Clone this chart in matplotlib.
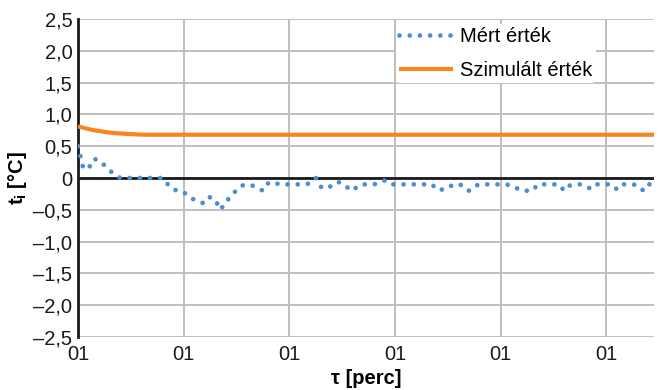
import matplotlib
matplotlib.use('Agg')
import matplotlib.pyplot as plt
from matplotlib.ticker import FixedLocator

plt.rcParams['font.family'] = ['Liberation Sans', 'DejaVu Sans']
plt.rcParams['mathtext.fontset'] = 'custom'
plt.rcParams['mathtext.rm'] = 'Liberation Sans'
plt.rcParams['mathtext.bf'] = 'Liberation Sans:bold'
plt.rcParams['mathtext.it'] = 'Liberation Sans:italic'

# measured values, one per minute
mert = [0.50, 0.15, 0.15, 0.30, 0.28, 0.20, 0.12, 0.05, 0.00, 0.00,
        0.00, 0.00, 0.00, 0.00, 0.00, 0.00, 0.00, -0.10, -0.18, -0.20,
        -0.22, -0.30, -0.34, -0.38, -0.40, -0.30, -0.35, -0.50, -0.36, -0.30,
        -0.18, -0.12, -0.10, -0.12, -0.16, -0.20, -0.08, -0.06, -0.10, -0.10,
        -0.10, -0.10, -0.10, -0.10, -0.08, 0.00, -0.14, -0.17, -0.12, -0.06,
        -0.08, -0.15, -0.20, -0.12, -0.10, -0.10, -0.10, -0.08, -0.04, -0.10,
        -0.10, -0.10, -0.10, -0.10, -0.10, -0.10, -0.10, -0.10, -0.19, -0.18,
        -0.16, -0.10, -0.10, -0.12, -0.20, -0.13, -0.10, -0.10, -0.10, -0.10,
        -0.10, -0.10, -0.12, -0.16, -0.20, -0.20, -0.20, -0.10, -0.10, -0.10,
        -0.10, -0.10, -0.20, -0.12, -0.10, -0.10, -0.12, -0.17, -0.10, -0.10,
        -0.10, -0.10, -0.18, -0.10, -0.10, -0.10, -0.12, -0.20, -0.10, -0.10]

szimulalt = [0.81, 0.79, 0.77, 0.75, 0.74, 0.725, 0.715, 0.705, 0.70, 0.695,
             0.69, 0.685, 0.683, 0.68, 0.68, 0.68, 0.68, 0.68, 0.68, 0.68,
             0.68, 0.68, 0.68, 0.68, 0.68, 0.68, 0.68, 0.68, 0.68, 0.68,
             0.68, 0.68, 0.68, 0.68, 0.68, 0.68, 0.68, 0.68, 0.68, 0.68,
             0.68, 0.68, 0.68, 0.68, 0.68, 0.68, 0.68, 0.68, 0.68, 0.68,
             0.68, 0.68, 0.68, 0.68, 0.68, 0.68, 0.68, 0.68, 0.68, 0.68,
             0.68, 0.68, 0.68, 0.68, 0.68, 0.68, 0.68, 0.68, 0.68, 0.68,
             0.68, 0.68, 0.68, 0.68, 0.68, 0.68, 0.68, 0.68, 0.68, 0.68,
             0.68, 0.68, 0.68, 0.68, 0.68, 0.68, 0.68, 0.68, 0.68, 0.68,
             0.68, 0.68, 0.68, 0.68, 0.68, 0.68, 0.68, 0.68, 0.68, 0.68,
             0.68, 0.68, 0.68, 0.68, 0.68, 0.68, 0.68, 0.68, 0.68, 0.68]

perc = list(range(len(mert)))
x_ticks = [0, 20, 40, 60, 80, 100]
x_labels = ['01', '01', '01', '01', '01', '01']
y_ticks = [2.5, 2.0, 1.5, 1.0, 0.5, 0, -0.5, -1.0, -1.5, -2.0, -2.5]
y_labels = ['2,5', '2,0', '1,5', '1,0', '0,5', '0',
            '–0,5', '–1,0', '–1,5', '–2,0', '–2,5']

fs = 14.5
fig = plt.figure(figsize=(6.62, 3.9), dpi=100)
ax = fig.add_axes([78/662, 1-337/390, (654-78)/662, (337-19)/390])

grid_c = '#bfbfbf'
ax.set_xlim(0, perc[-1])
ax.set_ylim(-2.5, 2.5)
ax.xaxis.set_major_locator(FixedLocator(x_ticks))
ax.yaxis.set_major_locator(FixedLocator(y_ticks))
ax.set_xticklabels(x_labels)
ax.set_yticklabels(y_labels)
ax.grid(True, color=grid_c, lw=1.4, zorder=0)
ax.set_axisbelow(True)
for s in ['top', 'right', 'bottom']:
    ax.spines[s].set_visible(False)
ax.spines['left'].set_linewidth(2.0)
ax.spines['left'].set_color('#1a1a1a')
ax.axhline(0, color='#1a1a1a', lw=2.0, zorder=1)
ax.tick_params(axis='both', length=0, labelsize=fs, colors='#1a1a1a')
ax.tick_params(axis='x', pad=6)
ax.tick_params(axis='y', pad=4)

ax.plot(perc, mert, color='#4a8fd4', lw=3.4, ls=(0, (0.01, 2.15)),
        dash_capstyle='round', label='Mért érték', zorder=3)
ax.plot(perc, szimulalt, color='#f7861f', lw=3.0, label='Szimulált érték',
        solid_capstyle='butt', zorder=3)

ax.set_xlabel('τ [perc]', fontsize=fs, fontweight='bold', labelpad=3)
ax.set_ylabel(r'$\mathbf{t_i}$ [°C]', fontsize=fs, fontweight='bold', labelpad=3)

leg = fig.legend(loc='upper left', bbox_to_anchor=(396/662, 1-24/390),
                 frameon=True, fontsize=fs, handlelength=2.7,
                 handletextpad=0.35, labelspacing=0.75, borderpad=0.15,
                 borderaxespad=0)
leg.get_frame().set_facecolor('white')
leg.get_frame().set_edgecolor('none')
leg.get_frame().set_alpha(1)

fig.savefig('out.png', dpi=100)
